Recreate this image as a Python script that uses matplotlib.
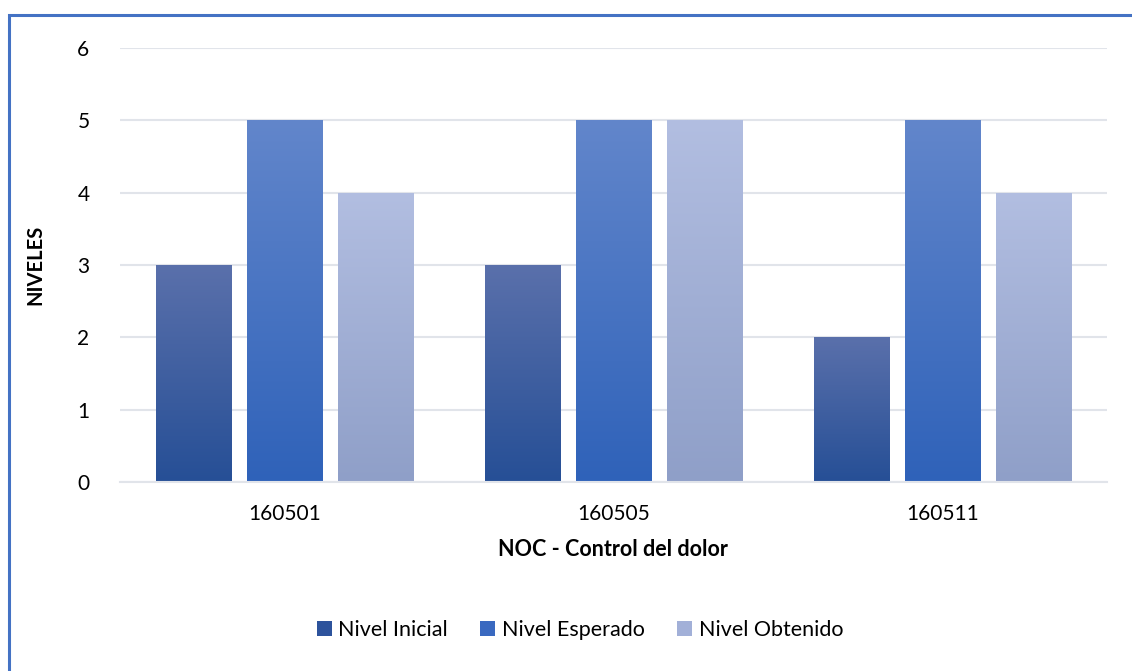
import numpy as np
import matplotlib.pyplot as plt
from matplotlib.patches import Rectangle, Patch
from matplotlib.colors import LinearSegmentedColormap

plt.rcParams['font.family'] = ['Lato', 'DejaVu Sans']

categories = ['160501', '160505', '160511']
series_names = ['Nivel Inicial', 'Nivel Esperado', 'Nivel Obtenido']
nivel_inicial = [3, 3, 2]
nivel_esperado = [5, 5, 5]
nivel_obtenido = [4, 5, 4]
series_values = [nivel_inicial, nivel_esperado, nivel_obtenido]
yticks = [0, 1, 2, 3, 4, 5, 6]

# gradient (bottom, top) per series
grads = [('#264F96', '#5A70AB'), ('#2F62B9', '#6286CB'), ('#8F9FC8', '#B2BEE1')]
legend_cols = ['#2D539C', '#3A69C0', '#A2B0D8']

fig = plt.figure(figsize=(11.32, 6.71), dpi=100)
ax = fig.add_axes([120 / 1132, 1 - 482 / 671, 987 / 1132, 434 / 671])

x = np.arange(len(categories))
width = 0.228
offsets = [-0.277, 0, 0.277]

for i, vals in enumerate(series_values):
    cmap = LinearSegmentedColormap.from_list('g%d' % i, grads[i])
    for xi, v in zip(x, vals):
        x0 = xi + offsets[i] - width / 2
        bar = Rectangle((x0, 0), width, v, facecolor='none', edgecolor='none')
        ax.add_patch(bar)
        grad = np.linspace(0, 1, 256).reshape(-1, 1)
        im = ax.imshow(grad, cmap=cmap, origin='lower', aspect='auto',
                       extent=(x0, x0 + width, 0, v), zorder=2)
        im.set_clip_path(bar)

ax.set_xlim(-0.5, len(categories) - 0.5)
ax.set_ylim(0, 6)
ax.set_yticks(yticks)
ax.set_xticks(x)
ax.set_xticklabels(categories)
ax.grid(axis='y', color='#E1E4EA', linewidth=1.5, zorder=0)
ax.set_axisbelow(True)
for s in ['top', 'right', 'left']:
    ax.spines[s].set_visible(False)
ax.spines['bottom'].set_color('#E1E4EA')
ax.spines['bottom'].set_linewidth(1.5)
ax.tick_params(length=0, labelsize=15, colors='#000000', pad=16)
ax.tick_params(axis='y', pad=22)

fig.text(35 / 1132, 1 - 265 / 671, 'NIVELES', rotation=90, ha='center', va='center',
         fontsize=14.5, fontweight='bold')
fig.text(613 / 1132, 1 - 550 / 671, 'NOC - Control del dolor', ha='center', va='center',
         fontsize=15.5, fontweight='bold')

handles = [Patch(facecolor=c, edgecolor='none') for c in legend_cols]
fig.legend(handles, series_names, loc='center', bbox_to_anchor=(580 / 1132, 1 - 630 / 671),
           ncol=3, frameon=False, fontsize=15.5, handlelength=0.7, handleheight=0.7,
           handletextpad=0.3, columnspacing=1.5)

# outer chart border
fig.patches.append(Rectangle((8.5 / 1132, -0.1), 1.2, 1 - 14.5 / 671 + 0.1,
                             transform=fig.transFigure, fill=False,
                             edgecolor='#4472C4', linewidth=2.2))

fig.savefig('out.png', dpi=100)
